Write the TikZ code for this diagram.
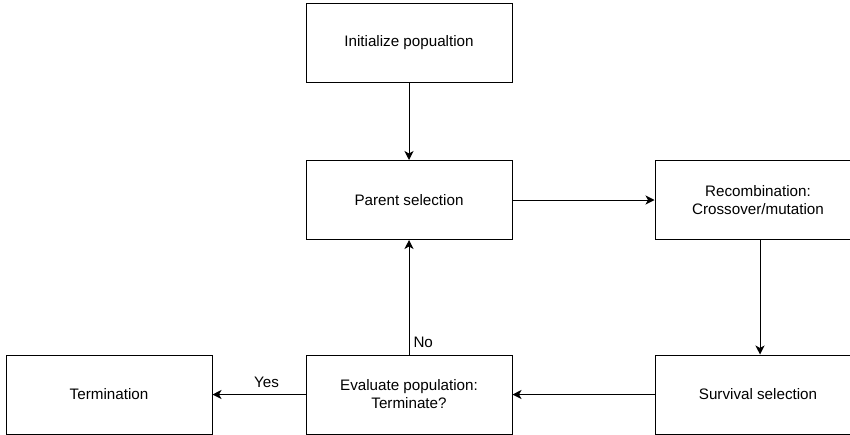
\documentclass[tikz,border=0pt]{standalone}
\usepackage{fontspec}
\setmainfont{Liberation Sans}
\usetikzlibrary{arrows.meta}
\begin{document}
\begin{tikzpicture}[x=1pt,y=-1pt,
  box/.style={draw, line width=1pt, minimum width=206pt, minimum height=79pt, inner sep=0pt, align=center, font=\fontsize{15.2}{18}\selectfont},
  arr/.style={draw, line width=1pt, -{Stealth[length=9pt,width=9pt,inset=2.5pt]}},
  lbl/.style={font=\fontsize{15.2}{18}\selectfont, inner sep=0pt}]
\useasboundingbox (0,0) rectangle (850,434);
\begin{scope}
\clip (0,0) rectangle (850,434);
\node[box] (init) at (409,43) {Initialize popualtion};
\node[box] (parent) at (409,200) {Parent selection};
\node[box] (recomb) at (758,200) {Recombination:\\Crossover/mutation};
\node[box] (surv) at (758,394.5) {Survival selection};
\node[box] (eval) at (409,394.5) {Evaluate population:\\Terminate?};
\node[box] (term) at (109,394.5) {Termination};
\draw[arr] (init) -- (parent);
\draw[arr] (parent) -- (recomb);
\draw[arr] (recomb.south -| 760,0) -- (surv.north -| 760,0);
\draw[arr] (surv) -- (eval);
\draw[arr] (eval) -- node[lbl, pos=0.11, right=4pt] {No} (parent);
\draw[arr] (eval) -- node[lbl, pos=0.42, above=6pt] {Yes} (term);
\end{scope}
\end{tikzpicture}
\end{document}
